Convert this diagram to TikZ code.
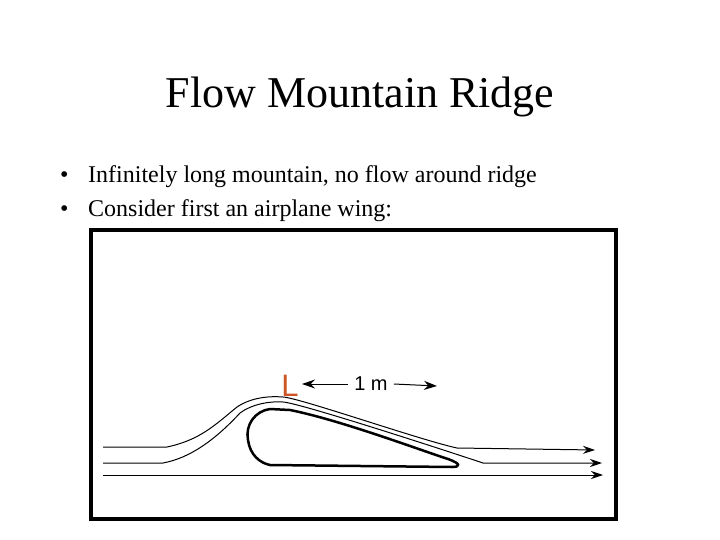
\documentclass[tikz,border=0pt]{standalone}
\usepackage{fontspec}
\setmainfont{Liberation Serif}
\newfontfamily\sansf{Liberation Sans}
\usetikzlibrary{arrows.meta}
\definecolor{lorange}{RGB}{205,85,35}
\begin{document}
\begin{tikzpicture}[x=1pt,y=-1pt,
  stream/.style={line width=1pt,-{Stealth[length=12pt,width=8pt]}},
  txt/.style={anchor=base west,inner sep=0pt,font=\fontsize{24}{28}\selectfont}]
\useasboundingbox (0,0) rectangle (720,540);
\node[inner sep=0pt,font=\fontsize{44}{48}\selectfont] (title) at (360,97) {Flow Mountain Ridge};
\node[txt] (b1) at (88,183) {Infinitely long mountain, no flow around ridge};
\node[txt] (b2) at (88,217) {Consider first an airplane wing:};
\node[txt] (d1) at (60,183) {•};
\node[txt] (d2) at (60,217) {•};
\draw[line width=3.5pt] (91,230) rectangle (616,519);
% streamlines
\coordinate (s1a) at (103,447); \coordinate (s1b) at (595,450);
\coordinate (s2a) at (103,463); \coordinate (s2b) at (602,463);
\coordinate (s3a) at (103,475); \coordinate (s3b) at (603,475);
\draw[stream] (s1a) -- (167,447) .. controls (200,440) and (215,425) .. (237,407)
  .. controls (252,397) and (270,396) .. (283,397) .. controls (300,398) and (420,440) .. (457,448) -- (s1b);
\draw[stream] (s2a) -- (163,463) .. controls (190,458) and (215,440) .. (240,413)
  .. controls (252,404) and (270,401) .. (283,402) .. controls (300,403) and (450,452) .. (483,463) -- (s2b);
\draw[stream] (s3a) -- (s3b);
% wing
\draw[line width=2.5pt,line join=round] (270,409) -- (290,410) .. controls (340,420) and (420,450) .. (448,459)
  .. controls (462,464) and (460,467) .. (452,467) -- (270,465) .. controls (260,463) and (250,455) .. (248,440)
  .. controls (245,425) and (255,411) .. (270,409) -- cycle;
% L label and 1 m
\node[inner sep=0pt,font=\sansf\fontsize{31}{31}\selectfont,text=lorange] (L) at (290,386) {L};
\node[inner sep=0pt,font=\sansf\fontsize{20}{20}\selectfont] (m) at (371,384) {1 m};
\draw[line width=1pt,-{Stealth[length=13pt,width=9pt]}] (m.west) ++(-6,0) coordinate (ml) -- (302,384);
\draw[line width=1pt,-{Stealth[length=13pt,width=9pt]}] (m.east) ++(6,0) coordinate (mr) -- (437,386);
\end{tikzpicture}
\end{document}
